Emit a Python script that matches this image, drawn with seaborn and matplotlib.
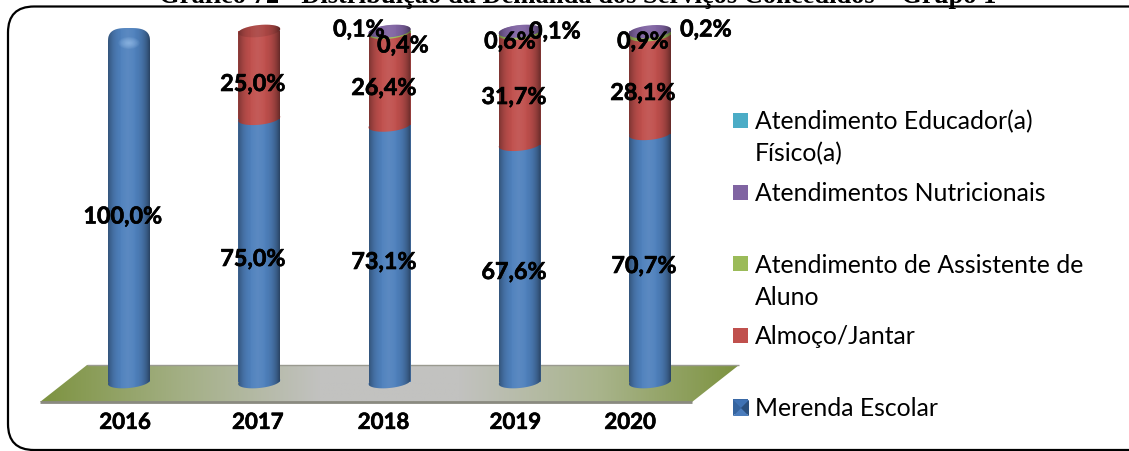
import numpy as np
import pandas as pd
import seaborn as sns
import matplotlib
matplotlib.use("Agg")
import matplotlib.pyplot as plt
import matplotlib.patheffects as pe
from matplotlib.colors import LinearSegmentedColormap
from matplotlib.patches import FancyBboxPatch, PathPatch, Polygon, Rectangle
from matplotlib.path import Path
from matplotlib.legend_handler import HandlerPatch
from matplotlib.transforms import ScaledTranslation

# ---------- data ----------
years = ["2016", "2017", "2018", "2019", "2020"]
merenda = [100.0, 75.0, 73.1, 67.6, 70.7]
almoco = [0.0, 25.0, 26.4, 31.7, 28.1]
assistente = [0.0, 0.0, 0.4, 0.6, 0.9]
nutricionais = [0.0, 0.0, 0.1, 0.1, 0.2]
educador = [0.0, 0.0, 0.0, 0.0, 0.0]
series_names = ["Merenda Escolar", "Almoço/Jantar", "Atendimento de Assistente de\nAluno",
                "Atendimentos Nutricionais", "Atendimento Educador(a)\nFísico(a)"]
series_colors = ["#4f81bd", "#c0504d", "#9bbb59", "#8064a2", "#4bacc6"]
title_text = "Gráfico 72 - Distribuição da Demanda dos Serviços Concedidos – Grupo 1"

# ---------- layout (pixels of the 1129x452 picture) ----------
W, H = 1129, 452
BAR0, PITCH, BAR_W = 129.0, 130.25, 42.0
Y0, Y100 = 383.0, 32.0
PX_PER_PCT = (Y0 - Y100) / 100
HW = BAR_W / PITCH / 2
CAP_B = 6.0 / PX_PER_PCT     # half height of the cylinder ellipse
CAP_K = 2.0 / PX_PER_PCT     # tilt: rises towards the right
BOLD = [pe.withStroke(linewidth=0.45, foreground="black")]

sns.set_theme(style="white")
plt.rcParams["font.family"] = ["Lato", "DejaVu Sans"]
fig = plt.figure(figsize=(W / 100, H / 100), dpi=100, facecolor="white")

# decoration layer in pixel coordinates
bg = fig.add_axes([0, 0, 1, 1], zorder=0)
bg.set_axis_off()

bg.add_patch(FancyBboxPatch((8 + 24, 7.5 + 24), 1160 - 48, 443.5 - 48,
                            boxstyle="round,pad=24,rounding_size=26",
                            fc="white", ec="black", lw=1.6))
floor_xy = [(87, 366), (739, 366), (692, 403), (40, 403)]
floor_cmap = LinearSegmentedColormap.from_list(
    "floor", ["#7d9340", "#a3af84", "#c2c2c0", "#c2c2c0", "#a9b48c", "#7d9340"])
im = bg.imshow(np.linspace(0, 1, 256)[None, :], extent=(40, 739, 403, 366),
               aspect="auto", cmap=floor_cmap, zorder=1)
im.set_clip_path(Polygon(floor_xy, closed=True, transform=bg.transData))
bg.plot([40, 692], [403, 403], color="#8a8a80", lw=2, zorder=2, solid_capstyle="butt")
bg.plot([87, 739], [366, 366], color="#9a9a90", lw=1, zorder=2, solid_capstyle="butt")
bg.set_xlim(0, W)
bg.set_ylim(H, 0)

# main axes: y 0..100 between pixel rows Y0 and Y100, x follows the bar pitch
ax = fig.add_axes([0, (H - Y0) / H, 1, (Y0 - Y100) / H], zorder=2)
ax.patch.set_alpha(0)

df = pd.DataFrame({"ano": years, "Merenda": merenda, "Almoco": almoco,
                   "Assistente": assistente, "Nutri": nutricionais, "Educador": educador})
cols = ["Merenda", "Almoco", "Assistente", "Nutri", "Educador"]
T = np.linspace(0, 2 * np.pi, 120)


def ellipse(i, yc, half=CAP_B, tilt=CAP_K, t=T):
    return i + HW * np.cos(t), yc + half * np.sin(t) + tilt * np.cos(t)


def superellipse(i, yc, half, t=T, n=3.0):
    c, s = np.cos(t), np.sin(t)
    return (i + HW * np.sign(c) * np.abs(c) ** (2 / n),
            yc + half * np.sign(s) * np.abs(s) ** (2 / n))


bottom = np.zeros(len(years))
tops = df[cols].sum(axis=1).to_numpy()
for k, (c, color) in enumerate(zip(cols, series_colors)):
    vals = df[c].to_numpy()
    sns.barplot(data=df, x="ano", y=c, bottom=bottom, color=color, saturation=1,
                width=2 * HW, linewidth=0, ax=ax, zorder=3 + k, errorbar=None)
    for i in range(len(years)):
        if vals[i] > 0:
            ex, ey = ellipse(i, bottom[i])
            ax.fill(ex, ey, color=color, lw=0, zorder=3 + k + 0.5, clip_on=False)
    bottom = bottom + vals

# caps: 2016 is a dome, the others flat ellipses in the colour of the top series
DOME = 15.0 / PX_PER_PCT
DOME_OVER = 3.0 / PX_PER_PCT
for i in range(len(years)):
    top_series = max(k for k, c in enumerate(cols) if df[c][i] > 0)
    dome = i == 0
    t_up = np.linspace(0, np.pi, 60)
    t_low = np.linspace(np.pi, 2 * np.pi, 40)
    low = np.c_[ellipse(i, 0, t=t_low)]
    if dome:
        yc = tops[i] + DOME_OVER - DOME
        ex, ey = superellipse(i, yc, DOME)
        up = np.c_[superellipse(i, yc, DOME, t=t_up)]
        # the square shoulders of the bar would stick out of the rounded top
        ax.containers[0][i].set_height(yc)
    else:
        yc = tops[i]
        ex, ey = ellipse(i, yc)
        up = np.c_[ellipse(i, yc, t=t_up)]
    ax.fill(ex, ey, color=series_colors[top_series], lw=0, zorder=9, clip_on=False)
    # cylinder shading, clipped to the outline
    outline = Path(np.r_[low, up, low[:1]])
    clip = PathPatch(outline, transform=ax.transData)
    u = np.linspace(-1, 1, 256)
    dark = np.abs(u + 0.05) ** 3.0 * 0.42
    light = np.clip(1 - np.abs(u + 0.05) / 0.45, 0, 1) * 0.07
    shade = np.zeros((1, 256, 4))
    shade[..., :3] = (light > dark)[None, :, None] * 1.0
    shade[..., 3] = np.maximum(dark, light)
    img = ax.imshow(shade, extent=(i - HW, i + HW, -CAP_B * 2, 112),
                    aspect="auto", zorder=10, interpolation="bilinear")
    img.set_clip_path(clip)
    img.set_clip_box(fig.bbox)
    if top_series == 1:
        ax.fill(ex, ey, color="#000000", alpha=0.10, lw=0, zorder=11, clip_on=False)
    if dome:
        # soft highlight on the dome
        for r in np.linspace(0.5, 0.08, 8):
            ax.fill(i + r * HW * np.cos(T), yc + r * 0.8 * DOME * np.sin(T),
                    color="#a8cdf5", alpha=0.10, lw=0, zorder=11, clip_on=False)

ax.set_xlim(-BAR0 / PITCH, (W - BAR0) / PITCH)
ax.set_ylim(0, 100)
for s in ax.spines.values():
    s.set_visible(False)
ax.set_xlabel("")
ax.set_ylabel("")
ax.set_yticks([])
ax.set_xticks(range(len(years)))
ax.set_xticklabels(years, fontsize=16, fontweight="bold", color="black")
ax.tick_params(axis="x", length=0, pad=21.5)
label_dx = [-4, -1.5, -6, -4.5, -20]
for lab, dx in zip(ax.get_xticklabels(), label_dx):
    lab.set_transform(lab.get_transform() + ScaledTranslation(dx / 100, 0, fig.dpi_scale_trans))
    lab.set_path_effects(BOLD)

# data labels were hand-placed in the source chart: pixel centre of each one
label_px = {
    "Merenda": [(123, 218), (253, 260.5), (384, 263.5), (514, 273.5), (644, 267.5)],
    "Almoco": [None, (253, 85.5), (384, 89.5), (514, 98.5), (643, 94.5)],
    "Assistente": [None, None, (403, 47), (510, 43), (643, 43)],
    "Nutri": [None, None, (359, 31), (555, 33), (706, 31)],
}
for c in cols[:4]:
    for i, v in enumerate(df[c]):
        if v > 0:
            px, py = label_px[c][i]
            ax.text((px - BAR0) / PITCH, (Y0 - py) / PX_PER_PCT,
                    f"{v:.1f}%".replace(".", ","), ha="center", va="center",
                    fontsize=16.8, fontweight="bold", color="black", zorder=20, clip_on=False,
                    path_effects=BOLD)

# legend: every entry is two lines tall, the swatch sits on the first line
LINE_PT = 32 * 0.72 / 2 + 1.8


def swatch(legend, orig_handle, xdescent, ydescent, width, height, fontsize):
    return Rectangle((-xdescent, -ydescent + LINE_PT), 15 * 0.72, 15 * 0.72)


LEG_FS = 17.8
order = [4, 3, 2, 1, 0]
names = [series_names[k] if "\n" in series_names[k] else series_names[k] + "\n " for k in order]
handles = [Rectangle((0, 0), 1, 1, fc=series_colors[k], lw=0) for k in order]
handles[-1].set_facecolor("#3a69a6")
leg = fig.legend(handles, names, loc="upper left", bbox_to_anchor=(733 / W, 1 - 110 / H),
                 frameon=False, fontsize=LEG_FS, labelcolor="black",
                 handlelength=22 * 0.72 / LEG_FS, handletextpad=0, labelspacing=0.67,
                 borderpad=0, borderaxespad=0,
                 handler_map={Rectangle: HandlerPatch(patch_func=swatch)})
for t in leg.get_texts():
    t.set_linespacing(1.47)
    t.set_color("black")

# bevelled swatch of the first series, as in the source
sx0, sx1, sy0, sy1, sxm, sym = 733, 749, 401, 417, 741, 409
for tri, col in [([(sx0, sy0), (sx1, sy0), (sxm, sym)], "#3f72b4"),
                 ([(sx0, sy1), (sx1, sy1), (sxm, sym)], "#4a7cbc"),
                 ([(sx0, sy0), (sx0, sy1), (sxm, sym)], "#35649f"),
                 ([(sx1, sy0), (sx1, sy1), (sxm, sym)], "#2a4f7d")]:
    fig.add_artist(Polygon([(x / W, 1 - y / H) for x, y in tri], closed=True, fc=col, lw=0,
                           transform=fig.transFigure, zorder=6))

fig.text(577.5 / W, 1 - 3 / H, title_text, ha="center", va="baseline", fontsize=19.1,
         fontweight="bold", family="Liberation Serif", color="black")

fig.savefig("out.png", dpi=100)
